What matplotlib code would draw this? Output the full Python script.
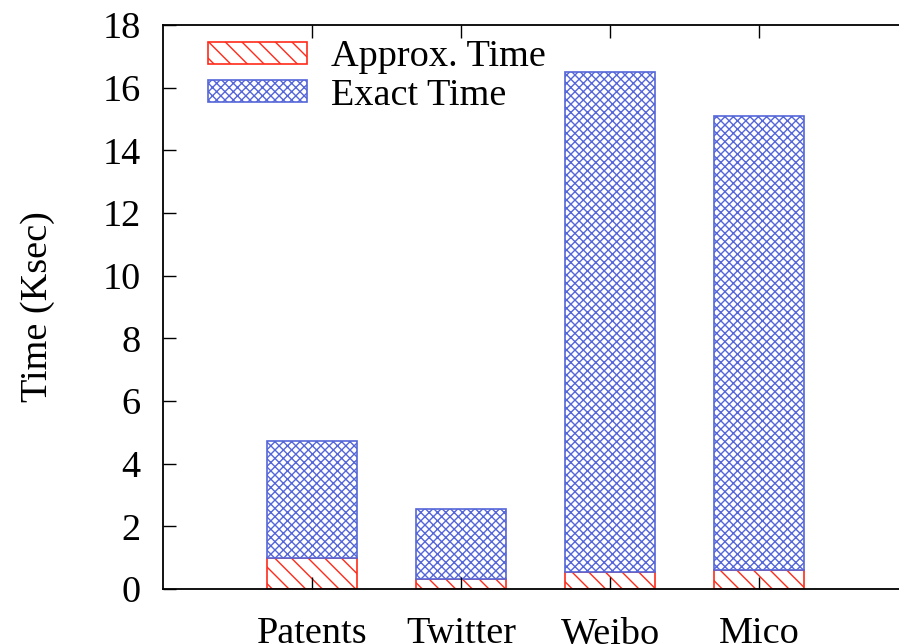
import matplotlib
matplotlib.use("Agg")
import matplotlib.pyplot as plt
import numpy as np

categories = ["Patents", "Twitter", "Weibo", "Mico"]
approx_time = [1.0, 0.31, 0.55, 0.6]
total_time = [4.71, 2.56, 16.49, 15.1]
exact_time = [t - a for t, a in zip(total_time, approx_time)]
yticks = [0, 2, 4, 6, 8, 10, 12, 14, 16, 18]

plt.rcParams['font.family'] = ['Liberation Serif', 'DejaVu Serif']
plt.rcParams['hatch.linewidth'] = 1.0

FS = 27.5
fig = plt.figure(figsize=(8.99, 6.44), dpi=100)
W, H = 899, 644
left, right, top, bottom = 163, 908, 25, 589
ax = fig.add_axes([left / W, (H - bottom) / H, (right - left) / W, (bottom - top) / H])

x = np.arange(1, len(categories) + 1)
red = '#ff2a1a'
blue = '#5566d8'
ax.bar(x, approx_time, width=0.6, color='white', edgecolor=red, hatch='\\\\', linewidth=1.2,
       label='Approx. Time')
ax.bar(x, exact_time, width=0.6, bottom=approx_time, color='white', edgecolor=blue, hatch='xxxx',
       linewidth=1.2, label='Exact Time')

ax.set_xlim(0, 5)
ax.set_ylim(0, 18)
ax.set_xticks(x)
ax.set_xticklabels(categories)
ax.set_yticks(yticks)
ax.tick_params(axis='both', direction='in', length=9, width=1.0, labelsize=FS,
               top=True, right=False)
ax.tick_params(axis='x', pad=20)
ax.tick_params(axis='y', pad=16)
for s in ax.spines.values():
    s.set_linewidth(1.3)

ax.set_ylabel('Time (Ksec)', fontsize=FS, labelpad=34)

leg = ax.legend(loc='upper left', bbox_to_anchor=(22 / (right - left), 1.0 + 8 / (bottom - top)),
                frameon=False, fontsize=FS, handlelength=2.6, handleheight=0.5,
                handletextpad=0.63, labelspacing=0.1, borderaxespad=0.2)

fig.savefig('out.png', dpi=100)
